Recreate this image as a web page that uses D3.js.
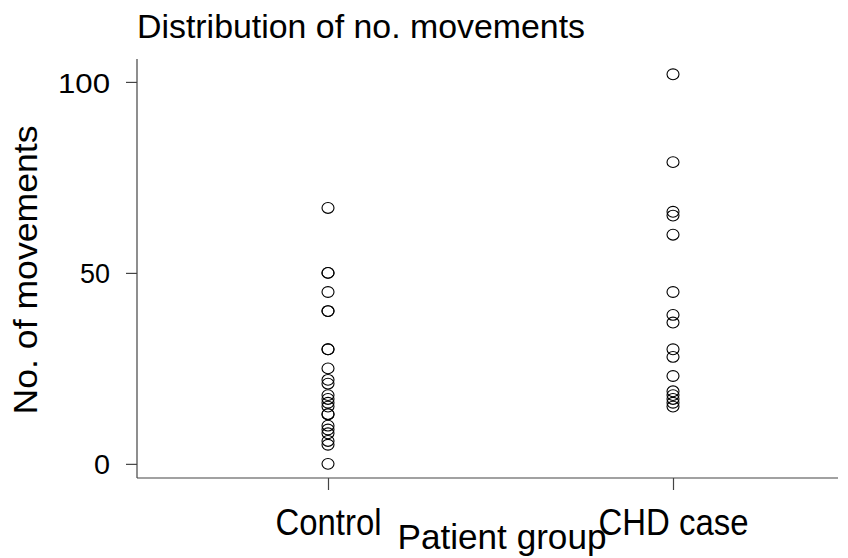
<!DOCTYPE html>
<html>
<head>
<meta charset="utf-8">
<script src="https://cdn.jsdelivr.net/npm/d3@7"></script>
<style>
  html, body { margin: 0; padding: 0; background: #fff; }
  text { font-family: "Liberation Sans", Arial, Helvetica, sans-serif; fill: #000; }
</style>
</head>
<body>
<svg id="chart" width="848" height="558"></svg>
<script>
// ---- data ----
const categories = ["Control", "CHD case"];
const controlValues = [67, 50, 50, 45, 40, 40, 30, 30, 25, 22, 21, 18, 17, 16, 15, 13, 13, 10, 9, 8, 6, 5, 0];
const chdValues = [102, 79, 66, 65, 60, 45, 39, 37, 30, 28, 23, 19, 18, 17, 16, 15];
const yTicks = [0, 50, 100];
const titleText = "Distribution of no. movements";
const xTitle = "Patient group";
const yTitle = "No. of movements";

const seriesByCat = { "Control": controlValues, "CHD case": chdValues };

const svg = d3.select("#chart");

const x = d3.scalePoint().domain(categories).range([328, 673]);
const y = d3.scaleLinear().domain([-3.7, 106]).range([478, 59]);
const axisLeftX = 137, axisRightX = 838;

// points
const points = [];
categories.forEach(c => seriesByCat[c].forEach(v => points.push({ c, v })));

svg.append("g").selectAll("ellipse").data(points).join("ellipse")
  .attr("cx", d => x(d.c))
  .attr("cy", d => y(d.v))
  .attr("rx", 6)
  .attr("ry", 5.4)
  .attr("fill", "none")
  .attr("stroke", "#000")
  .attr("stroke-width", 1.1);

// text widths to mimic the reference's rendering
const yTickLen = { 0: 16, 50: 30, 100: 52 };
const xTickLen = { "Control": 106, "CHD case": 150 };

// y axis
const yAxis = svg.append("g").attr("transform", `translate(${axisLeftX},0)`)
  .call(d3.axisLeft(y).tickValues(yTicks).tickSize(11).tickPadding(16).tickFormat(d3.format("d")));
yAxis.select(".domain").remove();
yAxis.append("line").attr("x1", 0).attr("x2", 0).attr("y1", y.range()[1]).attr("y2", y.range()[0])
  .attr("stroke", "#444").attr("stroke-width", 1.2);
yAxis.selectAll(".tick line").attr("stroke", "#444").attr("stroke-width", 1.2);
yAxis.selectAll(".tick text").attr("font-size", 28).attr("fill", "#000")
  .attr("font-family", "Liberation Sans, Arial, sans-serif")
  .attr("dy", "0.36em")
  .attr("textLength", d => yTickLen[d]).attr("lengthAdjust", "spacingAndGlyphs");

// x axis
const xAxis = svg.append("g").attr("transform", `translate(0,${y.range()[0]})`)
  .call(d3.axisBottom(x).tickSize(12).tickPadding(10));
xAxis.select(".domain").remove();
xAxis.append("line").attr("x1", axisLeftX).attr("x2", axisRightX).attr("y1", 0).attr("y2", 0)
  .attr("stroke", "#444").attr("stroke-width", 1.2);
xAxis.selectAll(".tick line").attr("stroke", "#444").attr("stroke-width", 1.2);
xAxis.selectAll(".tick text").attr("font-size", 36).attr("fill", "#000")
  .attr("font-family", "Liberation Sans, Arial, sans-serif")
  .attr("y", 0).attr("dy", 0)
  .attr("transform", "translate(0,57)")
  .attr("textLength", d => xTickLen[d]).attr("lengthAdjust", "spacingAndGlyphs");

// titles
svg.append("text").attr("x", 137).attr("y", 38)
  .attr("font-size", 33).attr("textLength", 448).attr("lengthAdjust", "spacingAndGlyphs")
  .text(titleText);

svg.append("text").attr("x", 502).attr("y", 549)
  .attr("text-anchor", "middle").attr("font-size", 35)
  .attr("textLength", 209).attr("lengthAdjust", "spacingAndGlyphs")
  .text(xTitle);

svg.append("text").attr("transform", "translate(37,270) rotate(-90)")
  .attr("text-anchor", "middle").attr("font-size", 34)
  .attr("textLength", 289).attr("lengthAdjust", "spacingAndGlyphs")
  .text(yTitle);
</script>
</body>
</html>
